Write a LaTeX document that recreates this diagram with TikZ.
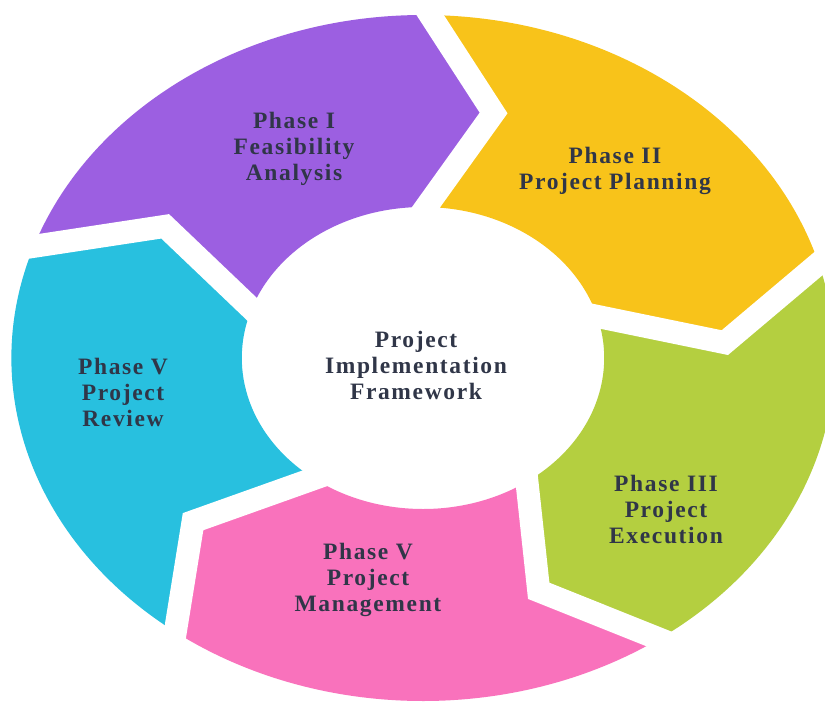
\documentclass[tikz,border=0pt]{standalone}
\usepackage{fontspec}
\setmainfont{Liberation Serif}[LetterSpace=7]
\usetikzlibrary{calc}
\definecolor{cpurple}{RGB}{156,95,225}
\definecolor{cyellow}{RGB}{248,195,26}
\definecolor{cgreen}{RGB}{180,207,64}
\definecolor{cpink}{RGB}{249,114,188}
\definecolor{ccyan}{RGB}{40,192,223}
\definecolor{ctext}{RGB}{48,54,72}
\newcommand\ringseg[2]{%
  \fill[#1] (#2:343) arc[start angle=#2, end angle=#2-72, radius=343]
    -- (#2-84.5:252) -- (#2-72:151)
    arc[start angle=#2-72, end angle=#2, radius=151]
    -- (#2-12.5:252) -- cycle;}
\newcommand\ringgap[1]{%
  \draw[gapline] ($(#1-12.5:252)!1.4!(#1:343)$) -- (#1-12.5:252)
    -- ($(#1-12.5:252)!1.4!(#1:151)$);}
\tikzset{
  lbl/.style={text=ctext, font=\bfseries\fontsize{23.5}{26}\selectfont, align=center, inner sep=0pt},
  gapline/.style={draw=white, line width=23pt, line join=miter}
}
\begin{document}
\begin{tikzpicture}[x=1pt,y=-1pt]
\useasboundingbox (0,0) rectangle (825,702);
\fill[white] (0,0) rectangle (825,702);
\clip (0,0) rectangle (825,702);
\begin{scope}[shift={(423,358)}, x=1.2pt, y=1pt]
  \ringseg{cpurple}{161}
  \ringseg{cyellow}{89}
  \ringseg{cgreen}{16}
  \ringseg{cpink}{-55}
  \ringseg{ccyan}{-127}
  \ringgap{161}
  \ringgap{89}
  \ringgap{16}
  \ringgap{-55}
  \ringgap{-127}
\end{scope}
\node[lbl] (p1) at (294,149) {Phase I\\Feasibility\\Analysis};
\node[lbl] (p2) at (615,171) {Phase II\\Project Planning};
\node[lbl] (p3) at (666,509) {Phase III\\Project\\Execution};
\node[lbl] (p4) at (368,580) {Phase V\\Project\\Management};
\node[lbl] (p5) at (123,392) {Phase V\\Project\\Review};
\node[lbl] (c) at (416,365) {Project\\Implementation\\Framework};
\end{tikzpicture}
\end{document}
